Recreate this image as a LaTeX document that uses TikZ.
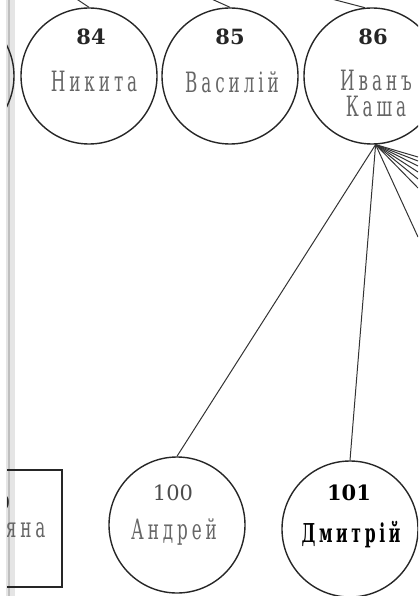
\documentclass[tikz,border=0pt]{standalone}
\usepackage{fontspec}
\setmainfont{DejaVu Serif}
\newfontfamily\namefont{DejaVu Serif}[FakeStretch=0.6,LetterSpace=14]
\usetikzlibrary{positioning}

\tikzset{
  person/.style={draw=black!85, line width=1.4pt, circle, minimum size=136pt, inner sep=0pt},
  branch/.style={draw=black!85, line width=1.2pt},
  num/.style={font=\bfseries\fontsize{21}{21}\selectfont, text=black!85},
  pname/.style={font=\namefont\fontsize{28}{26}\selectfont, text=black!60, align=center},
  link/.style={draw=black!80, line width=1pt},
}

\begin{document}
\begin{tikzpicture}[x=1pt,y=-1pt]
\useasboundingbox (0,0) rectangle (418,596);
% page edge
\fill[black!10] (6,0) rectangle (15,596);
\draw[black!25, line width=2pt] (8.5,0) -- (8.5,596);
\begin{scope}
\clip (7,0) rectangle (418,596);
% persons
\node[person] (c83) at (-54,76) {};
\node[person] (c84) at (89,76) {};
\node[person] (c85) at (230,76) {};
\node[person] (c86) at (372,76) {};
\node[person] (c100) at (177,525) {};
\node[person] (c101) at (350,529) {};
\node[branch, minimum width=110pt, minimum height=117pt] (c99) at (7,528.5) {};

% numbers and names
\node[num] (n84) at ([xshift=2pt,yshift=39pt]c84.center) {84};
\node[pname] (m84) at ([xshift=5pt,yshift=-5pt]c84.center) {Никита};
\node[num] (n85) at ([yshift=39pt]c85.center) {85};
\node[pname] (m85) at ([xshift=2pt,yshift=-6pt]c85.center) {Василій};
\node[num] (n86) at ([xshift=1pt,yshift=39pt]c86.center) {86};
\node[pname] (m86) at ([xshift=4pt,yshift=-17pt]c86.center) {Иванъ\\Каша};
\node[num, text=black!70, font=\fontsize{21}{21}\selectfont] (n100) at ([xshift=-4pt,yshift=32pt]c100.center) {100};
\node[pname] (m100) at ([xshift=-3pt,yshift=-7pt]c100.center) {Андрей};
\node[num, text=black] (n101) at ([xshift=-1pt,yshift=36pt]c101.center) {101};
\node[pname, text=black, font=\namefont\bfseries\fontsize{26}{26}\selectfont] (m101) at ([xshift=1pt,yshift=-6pt]c101.center) {Дмитрій};
\node[num] (n99) at (3,503) {9};
\node[pname, anchor=east] (m99) at (49,530) {яна};

% lines to parents
\coordinate (p84) at (66,-8);
\coordinate (p85) at (196,-8);
\coordinate (p86) at (305,-8);
\draw[link] (p84) -- (c84.north);
\draw[link] (p85) -- (c85.north);
\draw[link] (p86) -- (c86.96);

% children of 86
\draw[link] (c86.-87) -- (c100.north);
\draw[link] (c86.-87) -- (c101.north);
\foreach \y [count=\i] in {157,161,166,172,179,188,237}{
  \coordinate (f\i) at (418,\y);
  \draw[link] (c86.-87) -- (f\i);
}
\end{scope}
\end{tikzpicture}
\end{document}
